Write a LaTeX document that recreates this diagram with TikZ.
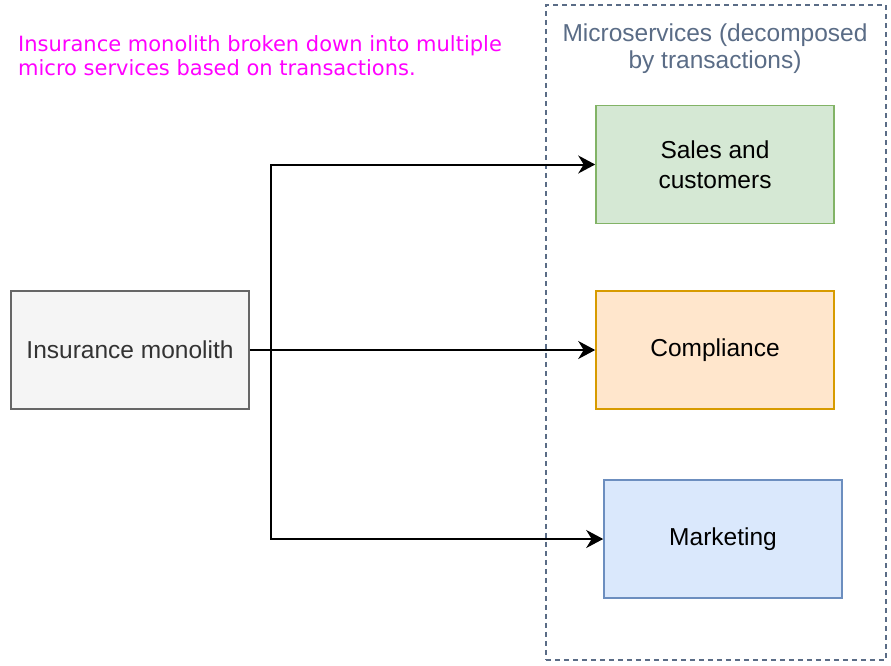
\documentclass[tikz,border=0pt]{standalone}
\usepackage{fontspec}
\setmainfont{Liberation Sans}
\newfontfamily\dejavu{DejaVu Sans}
\usetikzlibrary{arrows.meta}
\definecolor{grpc}{HTML}{5A6C86}
\definecolor{greenf}{HTML}{D5E8D4}\definecolor{greens}{HTML}{82B366}
\definecolor{orangef}{HTML}{FFE6CC}\definecolor{oranges}{HTML}{D79B00}
\definecolor{bluef}{HTML}{DAE8FC}\definecolor{blues}{HTML}{6C8EBF}
\definecolor{grayf}{HTML}{F5F5F5}\definecolor{grays}{HTML}{666666}
\definecolor{grayt}{HTML}{333333}
\tikzset{
  svc/.style={draw, line width=1.6pt, minimum width=238pt, minimum height=118pt, inner sep=0pt, align=center,
    font=\fontsize{24.5}{29.5}\selectfont},
  conn/.style={line width=2pt, -{Stealth[length=17pt,width=18pt,inset=5.5pt]}}
}
\begin{document}
\begin{tikzpicture}[x=1pt,y=-1pt]
\useasboundingbox (0,0) rectangle (891,665);
% container
\node[draw=grpc, dashed, dash pattern=on 5pt off 4pt, line width=1.5pt, minimum width=340pt, minimum height=655pt, inner sep=0pt, anchor=north west] (grp) at (545,4) {};
\node[anchor=north, inner sep=0pt, align=center, text=grpc, font=\fontsize{24.5}{27}\selectfont] (grptitle) at (715,24) {Microservices (decomposed\\by transactions)};
% title
\node[anchor=north west, inner sep=0pt, align=left, text={rgb,255:red,255;green,0;blue,255}, font=\dejavu\fontsize{21}{24}\selectfont] (title) at (18,35) {Insurance monolith broken down into multiple\\micro services based on transactions.};
% boxes
\node[svc, fill=greenf, draw=greens] (sales) at (715,164.5) {\raisebox{2pt}{\parbox{6cm}{\centering Sales and\\customers}}};
\node[svc, fill=orangef, draw=oranges] (comp) at (715,350) {Compliance};
\node[svc, fill=bluef, draw=blues] (mkt) at (723,539) {Marketing};
\node[svc, fill=grayf, draw=grays, text=grayt] (mono) at (130,350) {Insurance monolith};
% connectors
\coordinate (j) at (271,350);
\draw[conn] (mono.east) -- (j) |- (sales.west);
\draw[conn] (mono.east) -- (comp.west);
\draw[conn] (j) |- (mkt.west);
\end{tikzpicture}
\end{document}
